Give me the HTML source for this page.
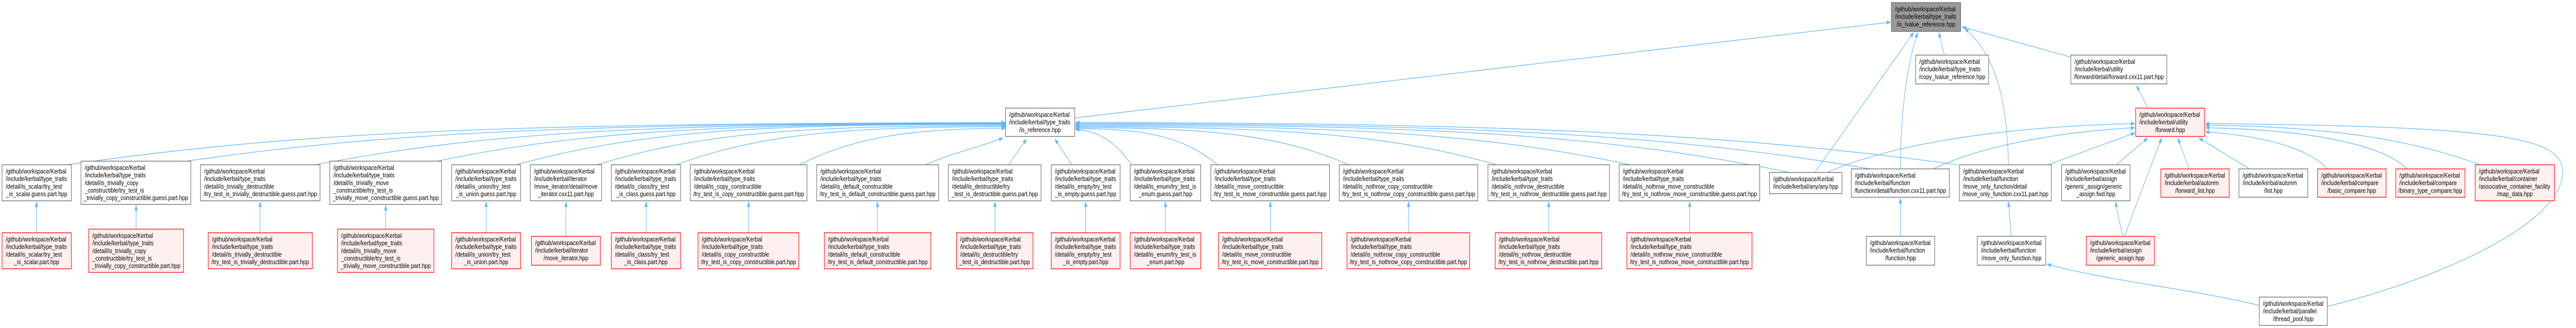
<!DOCTYPE html>
<html><head><meta charset="utf-8"><style>
html,body{margin:0;padding:0;background:#fff;width:100%;height:100%;overflow:hidden;}
svg{display:block;width:100vw;height:100vh;}
text{font-family:"Liberation Sans",Arial,sans-serif;font-size:13.33px;fill:#000;}
.m{text-anchor:middle;}
.w{fill:#fff;stroke:#666;stroke-width:1.3;}
.r{fill:#fff0f0;stroke:#ff0000;stroke-width:1.3;}
.g{fill:#999;stroke:#666;stroke-width:1.3;}
.e{fill:none;stroke:#63b8ff;stroke-width:1.3;marker-end:url(#a);}
</style></head><body>
<svg viewBox="0 0 6359 637" preserveAspectRatio="none" xmlns="http://www.w3.org/2000/svg" overflow="hidden">
<defs><marker id="a" markerUnits="userSpaceOnUse" markerWidth="11" markerHeight="8" refX="10" refY="4" orient="auto"><path d="M0,0 L11,4 L0,8 z" fill="#63b8ff"/></marker></defs>

<path class="e" d="M166,320 C745,255 1241,240 2482,238"/>
<path class="e" d="M460,313 C965,255 1471,240 2482,239"/>
<path class="e" d="M779,320 C1205,255 1630,240 2482,240"/>
<path class="e" d="M1079,313 C1430,255 1780,240 2482,241"/>
<path class="e" d="M1274,320 C1576,255 1878,240 2482,242"/>
<path class="e" d="M1474,320 C1726,258 1978,244 2482,244"/>
<path class="e" d="M1669,320 C1870,262 2075,246 2482,246"/>
<path class="e" d="M1973,320 C2100,270 2230,250 2482,249"/>
<path class="e" d="M2285,320 C2340,300 2420,285 2476,268"/>
<path class="e" d="M2490,320 L2534,270"/>
<path class="e" d="M2646,320 L2604,270"/>
<path class="e" d="M2793,320 C2750,270 2700,252 2655,252"/>
<path class="e" d="M3006,320 C2920,265 2830,250 2655,250"/>
<path class="e" d="M3330,320 C3160,262 2990,248 2655,248"/>
<path class="e" d="M3695,320 C3435,262 3170,246 2655,246"/>
<path class="e" d="M4024,320 C3680,262 3340,244 2655,244"/>
<path class="e" d="M4418,335 C3970,262 3535,242 2655,242"/>
<path class="e" d="M4617,328 C4130,262 3635,240 2655,240"/>
<path class="e" d="M4833,320 C4290,262 3745,238 2655,238"/>

<path class="e" d="M2653,229 L4667,43"/>
<path class="e" d="M4480,335 L4724,63"/>
<path class="e" d="M4691,328 C4693,200 4710,120 4734,63"/>
<path class="e" d="M4800,107 L4786,63"/>
<path class="e" d="M4958,320 C4955,200 4930,110 4850,55"/>
<path class="e" d="M5112,111 L4843,52"/>

<path class="e" d="M5302,210 L5274,166"/>
<path class="e" d="M4510,335 C4700,270 5000,245 5270,240"/>
<path class="e" d="M4772,328 C4900,280 5100,255 5270,248"/>
<path class="e" d="M5056,320 L5270,258"/>
<path class="e" d="M5224,320 L5302,268"/>
<path class="e" d="M5244,459 L5336,268"/>
<path class="e" d="M5404,328 L5376,268"/>
<path class="e" d="M5553,328 L5428,268"/>
<path class="e" d="M5746,328 C5700,290 5600,265 5444,256"/>
<path class="e" d="M5942,328 C5880,280 5700,252 5444,248"/>
<path class="e" d="M6122,320 C5950,270 5750,246 5444,243"/>
<path class="e" d="M5745,595 C6030,540 6335,430 6326,330 C6318,270 6200,245 5444,240"/>
<path class="e" d="M5240,459 L5222,392"/>
<path class="e" d="M5577,593 C5400,560 5200,545 5053,513"/>
<path class="e" d="M4691,459 L4691,385"/>
<path class="e" d="M4965,459 L4958,392"/>

<path class="e" d="M90,452 L90,392"/>
<path class="e" d="M336,445 L336,399"/>
<path class="e" d="M642,452 L642,392"/>
<path class="e" d="M952,445 L952,399"/>
<path class="e" d="M1200,452 L1200,392"/>
<path class="e" d="M1397,459 L1397,392"/>
<path class="e" d="M1595,452 L1595,392"/>
<path class="e" d="M1848,452 L1848,392"/>
<path class="e" d="M2166,452 L2166,392"/>
<path class="e" d="M2456,452 L2456,392"/>
<path class="e" d="M2680,452 L2680,392"/>
<path class="e" d="M2877,452 L2877,392"/>
<path class="e" d="M3136,452 L3136,392"/>
<path class="e" d="M3477,452 L3477,392"/>
<path class="e" d="M3823,452 L3823,392"/>
<path class="e" d="M4171,452 L4171,392"/>

<rect class="g" x="4669" y="5" width="171" height="56"/>
<text x="4678" y="22">/github/workspace/Kerbal</text><text x="4678" y="36.7">/include/kerbal/type_traits</text><text class="m" x="4754.5" y="51.3">/is_lvalue_reference.hpp</text>

<rect class="w" x="4729" y="107" width="180" height="56"/>
<text x="4738" y="124">/github/workspace/Kerbal</text><text x="4738" y="138.7">/include/kerbal/type_traits</text><text class="m" x="4819" y="153.3">/copy_lvalue_reference.hpp</text>

<rect class="w" x="5112" y="107" width="237" height="56"/>
<text x="5121" y="124">/github/workspace/Kerbal</text><text x="5121" y="138.7">/include/kerbal/utility</text><text class="m" x="5230.5" y="153.3">/forward/detail/forward.cxx11.part.hpp</text>

<rect class="r" x="5272" y="210" width="170" height="55"/>
<text x="5281" y="227">/github/workspace/Kerbal</text><text x="5281" y="241.7">/include/kerbal/utility</text><text class="m" x="5357" y="256.3">/forward.hpp</text>

<rect class="w" x="2482" y="210" width="171" height="55"/>
<text x="2491" y="227">/github/workspace/Kerbal</text><text x="2491" y="241.7">/include/kerbal/type_traits</text><text class="m" x="2567.5" y="256.3">/is_reference.hpp</text>

<rect class="w" x="5" y="320" width="171" height="70"/>
<text x="14" y="337">/github/workspace/Kerbal</text><text x="14" y="351.7">/include/kerbal/type_traits</text><text x="14" y="366.3">/detail/is_scalar/try_test</text><text class="m" x="90.5" y="381">_is_scalar.guess.part.hpp</text>

<rect class="w" x="200" y="313" width="271" height="84"/>
<text x="209" y="330">/github/workspace/Kerbal</text><text x="209" y="344.7">/include/kerbal/type_traits</text><text x="209" y="359.3">/detail/is_trivially_copy</text><text x="209" y="374">_constructible/try_test_is</text><text class="m" x="335.5" y="388.7">_trivially_copy_constructible.guess.part.hpp</text>

<rect class="w" x="495" y="320" width="295" height="70"/>
<text x="504" y="337">/github/workspace/Kerbal</text><text x="504" y="351.7">/include/kerbal/type_traits</text><text x="504" y="366.3">/detail/is_trivially_destructible</text><text class="m" x="642.5" y="381">/try_test_is_trivially_destructible.guess.part.hpp</text>

<rect class="w" x="814" y="313" width="276" height="84"/>
<text x="823" y="330">/github/workspace/Kerbal</text><text x="823" y="344.7">/include/kerbal/type_traits</text><text x="823" y="359.3">/detail/is_trivially_move</text><text x="823" y="374">_constructible/try_test_is</text><text class="m" x="952" y="388.7">_trivially_move_constructible.guess.part.hpp</text>

<rect class="w" x="1115" y="320" width="170" height="70"/>
<text x="1124" y="337">/github/workspace/Kerbal</text><text x="1124" y="351.7">/include/kerbal/type_traits</text><text x="1124" y="366.3">/detail/is_union/try_test</text><text class="m" x="1200" y="381">_is_union.guess.part.hpp</text>

<rect class="w" x="1309" y="320" width="176" height="70"/>
<text x="1318" y="337">/github/workspace/Kerbal</text><text x="1318" y="351.7">/include/kerbal/iterator</text><text x="1318" y="366.3">/move_iterator/detail/move</text><text class="m" x="1397" y="381">_iterator.cxx11.part.hpp</text>

<rect class="w" x="1509" y="320" width="171" height="70"/>
<text x="1518" y="337">/github/workspace/Kerbal</text><text x="1518" y="351.7">/include/kerbal/type_traits</text><text x="1518" y="366.3">/detail/is_class/try_test</text><text class="m" x="1594.5" y="381">_is_class.guess.part.hpp</text>

<rect class="w" x="1704" y="320" width="288" height="70"/>
<text x="1713" y="337">/github/workspace/Kerbal</text><text x="1713" y="351.7">/include/kerbal/type_traits</text><text x="1713" y="366.3">/detail/is_copy_constructible</text><text class="m" x="1848" y="381">/try_test_is_copy_constructible.guess.part.hpp</text>

<rect class="w" x="2016" y="320" width="301" height="70"/>
<text x="2025" y="337">/github/workspace/Kerbal</text><text x="2025" y="351.7">/include/kerbal/type_traits</text><text x="2025" y="366.3">/detail/is_default_constructible</text><text class="m" x="2166.5" y="381">/try_test_is_default_constructible.guess.part.hpp</text>

<rect class="w" x="2341" y="320" width="229" height="70"/>
<text x="2350" y="337">/github/workspace/Kerbal</text><text x="2350" y="351.7">/include/kerbal/type_traits</text><text x="2350" y="366.3">/detail/is_destructible/try</text><text class="m" x="2455.5" y="381">_test_is_destructible.guess.part.hpp</text>

<rect class="w" x="2595" y="320" width="170" height="70"/>
<text x="2604" y="337">/github/workspace/Kerbal</text><text x="2604" y="351.7">/include/kerbal/type_traits</text><text x="2604" y="366.3">/detail/is_empty/try_test</text><text class="m" x="2680" y="381">_is_empty.guess.part.hpp</text>

<rect class="w" x="2790" y="320" width="174" height="70"/>
<text x="2799" y="337">/github/workspace/Kerbal</text><text x="2799" y="351.7">/include/kerbal/type_traits</text><text x="2799" y="366.3">/detail/is_enum/try_test_is</text><text class="m" x="2877" y="381">_enum.guess.part.hpp</text>

<rect class="w" x="2989" y="320" width="293" height="70"/>
<text x="2998" y="337">/github/workspace/Kerbal</text><text x="2998" y="351.7">/include/kerbal/type_traits</text><text x="2998" y="366.3">/detail/is_move_constructible</text><text class="m" x="3135.5" y="381">/try_test_is_move_constructible.guess.part.hpp</text>

<rect class="w" x="3306" y="320" width="342" height="70"/>
<text x="3315" y="337">/github/workspace/Kerbal</text><text x="3315" y="351.7">/include/kerbal/type_traits</text><text x="3315" y="366.3">/detail/is_nothrow_copy_constructible</text><text class="m" x="3477" y="381">/try_test_is_nothrow_copy_constructible.guess.part.hpp</text>

<rect class="w" x="3673" y="320" width="300" height="70"/>
<text x="3682" y="337">/github/workspace/Kerbal</text><text x="3682" y="351.7">/include/kerbal/type_traits</text><text x="3682" y="366.3">/detail/is_nothrow_destructible</text><text class="m" x="3823" y="381">/try_test_is_nothrow_destructible.guess.part.hpp</text>

<rect class="w" x="3997" y="320" width="347" height="70"/>
<text x="4006" y="337">/github/workspace/Kerbal</text><text x="4006" y="351.7">/include/kerbal/type_traits</text><text x="4006" y="366.3">/detail/is_nothrow_move_constructible</text><text class="m" x="4170.5" y="381">/try_test_is_nothrow_move_constructible.guess.part.hpp</text>

<rect class="w" x="4368" y="335" width="179" height="41"/>
<text x="4377" y="352">/github/workspace/Kerbal</text><text class="m" x="4457.5" y="366.7">/include/kerbal/any/any.hpp</text>

<rect class="w" x="4570" y="328" width="242" height="55"/>
<text x="4579" y="345">/github/workspace/Kerbal</text><text x="4579" y="359.7">/include/kerbal/function</text><text class="m" x="4691" y="374.3">/function/detail/function.cxx11.part.hpp</text>

<rect class="w" x="4837" y="320" width="227" height="70"/>
<text x="4846" y="337">/github/workspace/Kerbal</text><text x="4846" y="351.7">/include/kerbal/function</text><text x="4846" y="366.3">/move_only_function/detail</text><text class="m" x="4950.5" y="381">/move_only_function.cxx11.part.hpp</text>

<rect class="w" x="5089" y="320" width="169" height="70"/>
<text x="5098" y="337">/github/workspace/Kerbal</text><text x="5098" y="351.7">/include/kerbal/assign</text><text x="5098" y="366.3">/generic_assign/generic</text><text class="m" x="5173.5" y="381">_assign.fwd.hpp</text>

<rect class="r" x="5334" y="328" width="169" height="55"/>
<text x="5343" y="345">/github/workspace/Kerbal</text><text x="5343" y="359.7">/include/kerbal/autonm</text><text class="m" x="5418.5" y="374.3">/forward_list.hpp</text>

<rect class="w" x="5527" y="328" width="170" height="55"/>
<text x="5536" y="345">/github/workspace/Kerbal</text><text x="5536" y="359.7">/include/kerbal/autonm</text><text class="m" x="5612" y="374.3">/list.hpp</text>

<rect class="r" x="5721" y="328" width="169" height="55"/>
<text x="5730" y="345">/github/workspace/Kerbal</text><text x="5730" y="359.7">/include/kerbal/compare</text><text class="m" x="5805.5" y="374.3">/basic_compare.hpp</text>

<rect class="r" x="5914" y="328" width="171" height="55"/>
<text x="5923" y="345">/github/workspace/Kerbal</text><text x="5923" y="359.7">/include/kerbal/compare</text><text class="m" x="5999.5" y="374.3">/binary_type_compare.hpp</text>

<rect class="r" x="6110" y="320" width="196" height="70"/>
<text x="6119" y="337">/github/workspace/Kerbal</text><text x="6119" y="351.7">/include/kerbal/container</text><text x="6119" y="366.3">/associative_container_facility</text><text class="m" x="6208" y="381">/map_data.hpp</text>

<rect class="r" x="5" y="452" width="171" height="70"/>
<text x="14" y="469">/github/workspace/Kerbal</text><text x="14" y="483.7">/include/kerbal/type_traits</text><text x="14" y="498.3">/detail/is_scalar/try_test</text><text class="m" x="90.5" y="513">_is_scalar.part.hpp</text>

<rect class="r" x="219" y="445" width="234" height="84"/>
<text x="228" y="462">/github/workspace/Kerbal</text><text x="228" y="476.7">/include/kerbal/type_traits</text><text x="228" y="491.3">/detail/is_trivially_copy</text><text x="228" y="506">_constructible/try_test_is</text><text class="m" x="336" y="520.7">_trivially_copy_constructible.part.hpp</text>

<rect class="r" x="514" y="452" width="257" height="70"/>
<text x="523" y="469">/github/workspace/Kerbal</text><text x="523" y="483.7">/include/kerbal/type_traits</text><text x="523" y="498.3">/detail/is_trivially_destructible</text><text class="m" x="642.5" y="513">/try_test_is_trivially_destructible.part.hpp</text>

<rect class="r" x="833" y="445" width="238" height="84"/>
<text x="842" y="462">/github/workspace/Kerbal</text><text x="842" y="476.7">/include/kerbal/type_traits</text><text x="842" y="491.3">/detail/is_trivially_move</text><text x="842" y="506">_constructible/try_test_is</text><text class="m" x="952" y="520.7">_trivially_move_constructible.part.hpp</text>

<rect class="r" x="1115" y="452" width="170" height="70"/>
<text x="1124" y="469">/github/workspace/Kerbal</text><text x="1124" y="483.7">/include/kerbal/type_traits</text><text x="1124" y="498.3">/detail/is_union/try_test</text><text class="m" x="1200" y="513">_is_union.part.hpp</text>

<rect class="r" x="1312" y="459" width="170" height="56"/>
<text x="1321" y="476">/github/workspace/Kerbal</text><text x="1321" y="490.7">/include/kerbal/iterator</text><text class="m" x="1397" y="505.3">/move_iterator.hpp</text>

<rect class="r" x="1509" y="452" width="171" height="70"/>
<text x="1518" y="469">/github/workspace/Kerbal</text><text x="1518" y="483.7">/include/kerbal/type_traits</text><text x="1518" y="498.3">/detail/is_class/try_test</text><text class="m" x="1594.5" y="513">_is_class.part.hpp</text>

<rect class="r" x="1723" y="452" width="249" height="70"/>
<text x="1732" y="469">/github/workspace/Kerbal</text><text x="1732" y="483.7">/include/kerbal/type_traits</text><text x="1732" y="498.3">/detail/is_copy_constructible</text><text class="m" x="1847.5" y="513">/try_test_is_copy_constructible.part.hpp</text>

<rect class="r" x="2035" y="452" width="263" height="70"/>
<text x="2044" y="469">/github/workspace/Kerbal</text><text x="2044" y="483.7">/include/kerbal/type_traits</text><text x="2044" y="498.3">/detail/is_default_constructible</text><text class="m" x="2166.5" y="513">/try_test_is_default_constructible.part.hpp</text>

<rect class="r" x="2361" y="452" width="189" height="70"/>
<text x="2370" y="469">/github/workspace/Kerbal</text><text x="2370" y="483.7">/include/kerbal/type_traits</text><text x="2370" y="498.3">/detail/is_destructible/try</text><text class="m" x="2455.5" y="513">_test_is_destructible.part.hpp</text>

<rect class="r" x="2595" y="452" width="170" height="70"/>
<text x="2604" y="469">/github/workspace/Kerbal</text><text x="2604" y="483.7">/include/kerbal/type_traits</text><text x="2604" y="498.3">/detail/is_empty/try_test</text><text class="m" x="2680" y="513">_is_empty.part.hpp</text>

<rect class="r" x="2790" y="452" width="174" height="70"/>
<text x="2799" y="469">/github/workspace/Kerbal</text><text x="2799" y="483.7">/include/kerbal/type_traits</text><text x="2799" y="498.3">/detail/is_enum/try_test_is</text><text class="m" x="2877" y="513">_enum.part.hpp</text>

<rect class="r" x="3008" y="452" width="255" height="70"/>
<text x="3017" y="469">/github/workspace/Kerbal</text><text x="3017" y="483.7">/include/kerbal/type_traits</text><text x="3017" y="498.3">/detail/is_move_constructible</text><text class="m" x="3135.5" y="513">/try_test_is_move_constructible.part.hpp</text>

<rect class="r" x="3325" y="452" width="303" height="70"/>
<text x="3334" y="469">/github/workspace/Kerbal</text><text x="3334" y="483.7">/include/kerbal/type_traits</text><text x="3334" y="498.3">/detail/is_nothrow_copy_constructible</text><text class="m" x="3476.5" y="513">/try_test_is_nothrow_copy_constructible.part.hpp</text>

<rect class="r" x="3691" y="452" width="263" height="70"/>
<text x="3700" y="469">/github/workspace/Kerbal</text><text x="3700" y="483.7">/include/kerbal/type_traits</text><text x="3700" y="498.3">/detail/is_nothrow_destructible</text><text class="m" x="3822.5" y="513">/try_test_is_nothrow_destructible.part.hpp</text>

<rect class="r" x="4016" y="452" width="309" height="70"/>
<text x="4025" y="469">/github/workspace/Kerbal</text><text x="4025" y="483.7">/include/kerbal/type_traits</text><text x="4025" y="498.3">/detail/is_nothrow_move_constructible</text><text class="m" x="4170.5" y="513">/try_test_is_nothrow_move_constructible.part.hpp</text>

<rect class="w" x="4607" y="459" width="169" height="56"/>
<text x="4616" y="476">/github/workspace/Kerbal</text><text x="4616" y="490.7">/include/kerbal/function</text><text class="m" x="4691.5" y="505.3">/function.hpp</text>

<rect class="w" x="4881" y="459" width="169" height="56"/>
<text x="4890" y="476">/github/workspace/Kerbal</text><text x="4890" y="490.7">/include/kerbal/function</text><text class="m" x="4965.5" y="505.3">/move_only_function.hpp</text>

<rect class="r" x="5150" y="459" width="168" height="56"/>
<text x="5159" y="476">/github/workspace/Kerbal</text><text x="5159" y="490.7">/include/kerbal/assign</text><text class="m" x="5234" y="505.3">/generic_assign.hpp</text>

<rect class="w" x="5577" y="577" width="168" height="55"/>
<text x="5586" y="594">/github/workspace/Kerbal</text><text x="5586" y="608.7">/include/kerbal/parallel</text><text class="m" x="5661" y="623.3">/thread_pool.hpp</text>
</svg>
</body></html>
